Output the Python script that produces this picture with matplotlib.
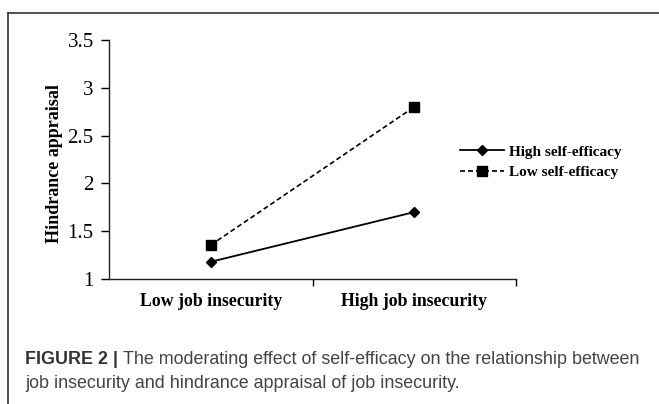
import matplotlib
matplotlib.use("Agg")
import matplotlib.pyplot as plt
from matplotlib.lines import Line2D

# data
categories = ["Low job insecurity", "High job insecurity"]
high_se = [1.18, 1.70]
low_se = [1.355, 2.80]
yticks = [1, 1.5, 2, 2.5, 3, 3.5]
ytick_labels = ["1", "1.5", "2", "2.5", "3", "3.5"]

serif = "Liberation Serif"
sans = "Liberation Sans"

fig = plt.figure(figsize=(6.59, 4.04), dpi=100)
ax = fig.add_axes([109/659, 1 - 279/404, (516 - 109)/659, (279 - 40)/404])

x = list(range(len(categories)))
ax.plot(x, high_se, color="black", lw=1.3, marker="D", ms=5.5, label="High self-efficacy")
ax.plot(x, low_se, color="black", lw=1.2, ls=(0, (3, 1.8)), marker="s", ms=7, label="Low self-efficacy")

ax.set_xlim(-0.5, 1.5)
ax.set_ylim(1, 3.5)
ax.set_yticks(yticks)
ax.set_yticklabels(ytick_labels, fontfamily=serif, fontsize=15)
ax.set_xticks(x)
ax.set_xticklabels(categories, fontfamily=serif, fontsize=12.8, fontweight="bold")
ax.set_xticks([0.5, 1.5], minor=True)
ax.tick_params(axis="x", which="major", length=0, pad=10)
ax.tick_params(axis="x", which="minor", length=5, width=1, direction="out")
ax.tick_params(axis="y", length=6, width=1, direction="out", pad=5)
for s in ["top", "right"]:
    ax.spines[s].set_visible(False)
for s in ["left", "bottom"]:
    ax.spines[s].set_linewidth(1)
    ax.spines[s].set_color("#222222")

ax.set_ylabel("Hindrance appraisal", fontfamily=serif, fontsize=13, fontweight="bold")
ax.yaxis.set_label_coords(-46/407, 0.485)

leg = fig.legend(loc="center left", bbox_to_anchor=(446/659, 1 - 162/404), frameon=False,
                 handlelength=2.9, handletextpad=0.35, labelspacing=0.45,
                 prop={"family": serif, "weight": "bold", "size": 11})

# outer frame
fig.add_artist(Line2D([8/659, 8/659], [0, 1 - 13/404], color="#333333", lw=1.2))
fig.add_artist(Line2D([8/659, 1], [1 - 13/404, 1 - 13/404], color="#333333", lw=1.2))

# caption
fig.canvas.draw()
r = fig.canvas.get_renderer()
t1 = fig.text(25/659, 1 - 360/404, "FIGURE 2 |", fontfamily=sans, fontweight="bold",
              fontsize=12.9, color="#333333", va="center")
bb = t1.get_window_extent(renderer=r)
fig.text(bb.x1/659 + 5/659, 1 - 360/404, "The moderating effect of self-efficacy on the relationship between",
         fontfamily=sans, fontsize=12.9, color="#444444", va="center")
fig.text(25/659, 1 - 384/404, "job insecurity and hindrance appraisal of job insecurity.",
         fontfamily=sans, fontsize=12.9, color="#444444", va="center")

fig.savefig("out.png", dpi=100)
